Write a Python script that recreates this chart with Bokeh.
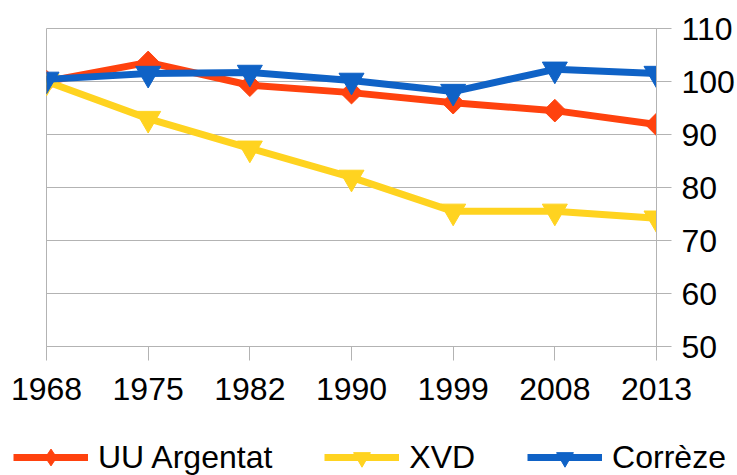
import math
from bokeh.plotting import figure
from bokeh.models import (Range1d, FixedTicker, Legend, LegendItem,
                          ColumnDataSource)
from bokeh.embed import file_html
from bokeh.resources import INLINE

years = ["1968", "1975", "1982", "1990", "1999", "2008", "2013"]
uu_argentat = [100.0, 103.6, 99.3, 97.9, 96.0, 94.5, 91.9]
xvd = [100.0, 93.0, 87.4, 81.9, 75.5, 75.5, 74.2]
correze = [100.4, 101.5, 101.7, 100.2, 98.1, 102.3, 101.5]
y_ticks = [50, 60, 70, 80, 90, 100, 110]
series_names = ["UU Argentat", "XVD", "Corrèze"]

FONT = "Liberation Sans"
FSIZE = "32px"
GRID = "#b3b3b3"
C_UU = "#ff420e"
C_XVD = "#ffd320"
C_COR = "#0f62c6"

idx = list(range(len(years)))
src = ColumnDataSource(dict(x=idx, uu=uu_argentat, xvd=xvd, cor=correze))

p = figure(width=737, height=420, output_backend="svg", toolbar_location=None,
           x_range=Range1d(0, len(years) - 1), y_range=Range1d(50, 110),
           y_axis_location="right", min_border_left=46, min_border_top=28,
           min_border_right=80, min_border_bottom=74)
p.outline_line_color = GRID
p.outline_line_width = 1

p.xaxis.ticker = FixedTicker(ticks=idx)
p.xaxis.major_label_overrides = {i: y for i, y in zip(idx, years)}
p.yaxis.ticker = FixedTicker(ticks=y_ticks)
for ax in (p.xaxis[0], p.yaxis[0]):
    ax.axis_line_color = GRID
    ax.major_tick_line_color = GRID
    ax.minor_tick_line_color = None
    ax.major_tick_in = 0
    ax.major_label_text_font = FONT
    ax.major_label_text_font_size = FSIZE
    ax.major_label_text_color = "black"
p.xaxis.major_tick_out = 14
p.xaxis.major_label_standoff = 17
p.yaxis.major_tick_out = 15
p.yaxis.major_label_standoff = 10

p.xgrid.grid_line_color = None
p.ygrid.grid_line_color = GRID
p.ygrid.ticker = FixedTicker(ticks=y_ticks)


def draw(fig, uu_marker, uu_angle, uu_size):
    l_uu = fig.line("x", "uu", source=src, line_color=C_UU, line_width=7)
    m_uu = fig.scatter("x", "uu", source=src, marker=uu_marker, angle=uu_angle,
                       size=uu_size, fill_color=C_UU, line_color=C_UU)
    l_xvd = fig.line("x", "xvd", source=src, line_color=C_XVD, line_width=7)
    m_xvd = fig.scatter("x", "xvd", source=src, marker="inverted_triangle", size=25,
                        fill_color=C_XVD, line_color=C_XVD)
    l_cor = fig.line("x", "cor", source=src, line_color=C_COR, line_width=7)
    m_cor = fig.scatter("x", "cor", source=src, marker="inverted_triangle", size=25,
                        fill_color=C_COR, line_color=C_COR)
    return [[l_uu, m_uu], [l_xvd, m_xvd], [l_cor, m_cor]]


draw(p, "square", math.pi / 4, 16)

# legend strip below the chart (its own glyphs lie outside its visible range)
pl = figure(width=737, height=55, output_backend="svg", toolbar_location=None,
            x_range=Range1d(0, 1), y_range=Range1d(1000, 1001),
            x_axis_location=None, y_axis_location=None,
            min_border=0, outline_line_color=None)
pl.xgrid.grid_line_color = None
pl.ygrid.grid_line_color = None
rends = draw(pl, "diamond", 0, 16)
legend = Legend(items=[LegendItem(label=n, renderers=r)
                       for n, r in zip(series_names, rends)],
                orientation="horizontal", location=(13, -3))
legend.label_text_font = FONT
legend.label_text_font_size = FSIZE
legend.label_text_color = "black"
legend.glyph_width = 75
legend.glyph_height = 42
legend.label_standoff = 10
legend.spacing = 52
legend.padding = 0
legend.margin = 0
legend.border_line_color = None
legend.background_fill_alpha = 0
pl.add_layout(legend, "center")

open("out.html", "w").write(file_html([p, pl], INLINE))
